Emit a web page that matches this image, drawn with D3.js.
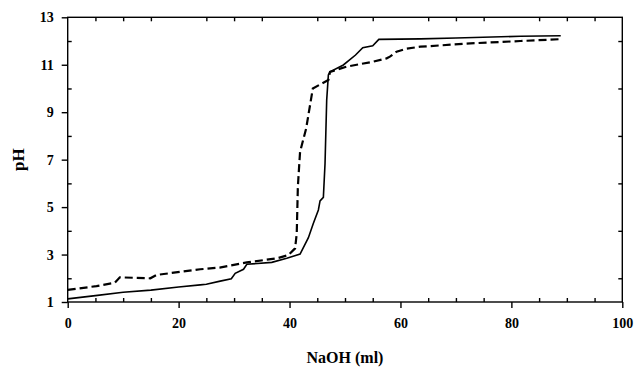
<!DOCTYPE html>
<html lang="en">
<head>
    <meta charset="UTF-8" />
    <title>pH titration</title>
    <script src="https://d3js.org/d3.v7.min.js"></script>
    <style>
        body { margin: 0; background: #fff; }
        text { font-family: "Liberation Serif", "Times New Roman", serif; font-weight: bold; }
        .axis path, .axis line { stroke: #000; stroke-width: 1.4px; }
        .axis text { font-size: 14px; fill: #000; }
    </style>
</head>
<body>
    <script>
        // solid curve (ml NaOH, pH)
        const solidX = [0, 5, 10, 15, 20, 23.9, 25, 27.5, 29.5, 30.2, 31.7, 32.3, 36.8, 39.5, 41.9, 43.4, 44.3, 45.2, 45.5, 46.1, 46.4, 46.7, 47, 47.3, 49.7, 51.9, 53.2, 55, 56.1, 63.6, 70, 81.6, 88.9];
        const solidY = [1.13, 1.27, 1.41, 1.5, 1.63, 1.72, 1.75, 1.88, 1.98, 2.21, 2.38, 2.59, 2.67, 2.84, 3.02, 3.71, 4.32, 4.88, 5.26, 5.41, 6.84, 9.51, 10.57, 10.7, 10.99, 11.41, 11.72, 11.8, 12.07, 12.09, 12.13, 12.2, 12.22];

        // dashed curve
        const dashX = [0, 5.2, 8.5, 9.4, 14.9, 16, 23.9, 27.4, 32.3, 37.7, 39.8, 41, 41.3, 41.5, 41.8, 41.9, 43, 44.2, 47, 47.3, 50.3, 55.1, 57.5, 58.1, 59.3, 61.1, 63.6, 72.6, 81.6, 88.9];
        const dashY = [1.51, 1.67, 1.81, 2.04, 2.0, 2.14, 2.38, 2.45, 2.67, 2.84, 2.98, 3.26, 3.89, 5.86, 6.98, 7.33, 8.32, 10.0, 10.36, 10.7, 10.92, 11.13, 11.27, 11.34, 11.55, 11.68, 11.76, 11.9, 12.0, 12.08];

        const xMajor = [0, 20, 40, 60, 80, 100];
        const xMinor = d3.range(0, 101, 5).filter(v => v % 20 !== 0);
        const yMajor = [1, 3, 5, 7, 9, 11, 13];
        const yMinor = [2, 4, 6, 8, 10, 12];

        const width = 636, height = 370;
        const margin = { top: 17.3, right: 13.7, bottom: 68, left: 67.7 };
        const w = width - margin.left - margin.right;
        const h = height - margin.top - margin.bottom;

        const x = d3.scaleLinear().domain([0, 100]).range([0, w]);
        const y = d3.scaleLinear().domain([1, 13]).range([h, 0]);

        const svg = d3.select("body").append("svg")
            .attr("width", width)
            .attr("height", height);

        const g = svg.append("g")
            .attr("transform", `translate(${margin.left},${margin.top})`);

        // frame
        g.append("rect")
            .attr("width", w).attr("height", h)
            .attr("fill", "none").attr("stroke", "#000").attr("stroke-width", 1.4);

        // bottom: major outward with labels, minor inward
        g.append("g").attr("class", "axis")
            .attr("transform", `translate(0,${h})`)
            .call(d3.axisBottom(x).tickValues(xMajor).tickSize(6).tickPadding(10).tickSizeOuter(0));
        g.append("g").attr("class", "axis")
            .attr("transform", `translate(0,${h})`)
            .call(d3.axisBottom(x).tickValues(xMinor).tickSize(-4).tickFormat("").tickSizeOuter(0));
        // top minor inward
        g.append("g").attr("class", "axis")
            .call(d3.axisTop(x).tickValues(xMinor).tickSize(-4).tickFormat("").tickSizeOuter(0));

        // left: major outward with labels, minor inward
        g.append("g").attr("class", "axis")
            .call(d3.axisLeft(y).tickValues(yMajor).tickSize(6).tickPadding(8).tickSizeOuter(0));
        g.append("g").attr("class", "axis")
            .call(d3.axisLeft(y).tickValues(yMinor).tickSize(-4).tickFormat("").tickSizeOuter(0));
        // right minor inward
        g.append("g").attr("class", "axis")
            .attr("transform", `translate(${w},0)`)
            .call(d3.axisRight(y).tickValues(yMinor).tickSize(-4).tickFormat("").tickSizeOuter(0));

        g.selectAll(".axis path.domain").remove();

        const line = d3.line().x(d => x(d[0])).y(d => y(d[1]));

        g.append("path")
            .datum(d3.zip(solidX, solidY))
            .attr("d", line)
            .attr("fill", "none")
            .attr("stroke", "#000")
            .attr("stroke-width", 1.6);

        g.append("path")
            .datum(d3.zip(dashX, dashY))
            .attr("d", line)
            .attr("fill", "none")
            .attr("stroke", "#000")
            .attr("stroke-width", 2.2)
            .attr("stroke-dasharray", "8,4");

        // axis titles
        svg.append("text")
            .attr("x", margin.left + w / 2)
            .attr("y", 363)
            .attr("text-anchor", "middle")
            .style("font-size", "16px")
            .text("NaOH (ml)");

        svg.append("text")
            .attr("transform", `translate(24,${margin.top + h / 2}) rotate(-90)`)
            .attr("text-anchor", "middle")
            .style("font-size", "17px")
            .text("pH");
    </script>
</body>
</html>
